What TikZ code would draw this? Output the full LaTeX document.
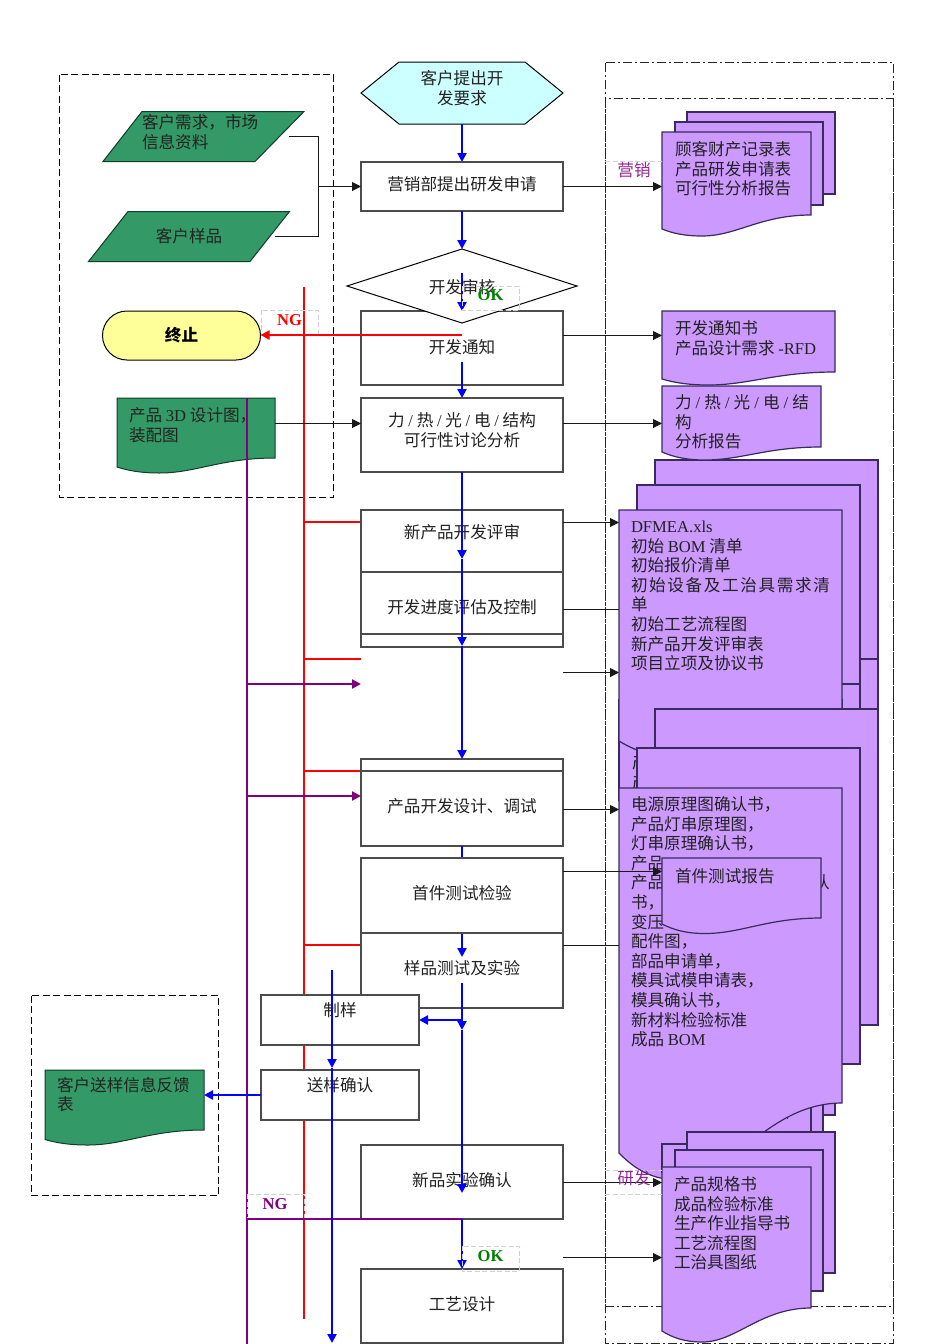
\documentclass[tikz,border=0pt]{standalone}
\usepackage{fontspec}
\setmainfont{Noto Sans CJK SC}
\newfontfamily\latf{Liberation Serif}
\usetikzlibrary{arrows.meta,shapes.geometric}
\definecolor{sheetfill}{HTML}{CC99FF}
\definecolor{sheetline}{HTML}{3A2A60}
\definecolor{docgreen}{HTML}{339966}
\definecolor{docgreenline}{HTML}{0F3D28}
\definecolor{inktext}{HTML}{222222}
\definecolor{purpleline}{HTML}{800080}
\definecolor{lblbox}{HTML}{CFCFDF}
\definecolor{hexfill}{HTML}{CCFFFF}
\definecolor{stopfill}{HTML}{FFFF99}
\newcommand{\lt}[1]{{\latf #1}}
\tikzset{
  x=1pt,y=-1pt,
  every node/.style={inner sep=0pt,outer sep=0pt,text=inktext,font=\fontsize{16.6}{19.6}\selectfont},
  flowbox/.style={draw=black!70,line width=1.2pt,fill=white,anchor=north west},
  sheet/.style={draw=sheetline,line width=1.2pt,fill=sheetfill},
  greensheet/.style={draw=docgreenline,line width=1pt,fill=docgreen},
  ghost/.style={anchor=north west},
  txt/.style={anchor=center,align=center},
  ltxt/.style={anchor=north west,align=left},
  outerframe/.style={draw=black!85,line width=1pt,dash pattern=on 9pt off 3pt on 2pt off 3pt},
  dashframe/.style={draw=black,line width=1pt,dash pattern=on 7pt off 3.5pt},
  lblframe/.style={draw=lblbox,line width=.7pt,dash pattern=on 5pt off 2.5pt},
  blk/.style={draw=black!90,line width=1pt},
  blkarr/.style={blk,-{Triangle[length=9pt,width=9pt]}},
  bluearr/.style={draw=blue,line width=2.2pt,-{Triangle[length=9pt,width=9pt]}},
  redline/.style={draw=red,line width=2.2pt},
  redarr/.style={redline,-{Triangle[length=9pt,width=9pt]}},
  purpline/.style={draw=purpleline,line width=2.2pt},
  purparr/.style={purpline,-{Triangle[length=9pt,width=9pt]}},
  oktext/.style={text=green!50!black,font=\latf\bfseries\fontsize{16.6}{18}\selectfont},
  ngtext/.style={text=red,font=\latf\bfseries\fontsize{16.6}{18}\selectfont},
  ngptext/.style={text=purpleline,font=\latf\bfseries\fontsize{16.6}{18}\selectfont},
  roletext/.style={text=purpleline!85,font=\fontsize{16.6}{18}\selectfont}
}
% name, x0,y0,x1,y1 : flow box
\newcommand{\flowrect}[5]{\node[flowbox,minimum width={#4pt-#2pt},minimum height={#5pt-#3pt}] (#1) at (#2,#3) {};}
% name, style, x0,y0,x1,yRight,yLeft,yLow : sheet with wavy foot
\newcommand{\wavesheet}[8]{%
  \path[#2] (#3,#4) -- (#5,#4) -- (#5,#6)
    .. controls ({#3+.66*(#5-#3)},#6) and ({#3+.5*(#5-#3)},#8) .. ({#3+.27*(#5-#3)},#8)
    .. controls ({#3+.15*(#5-#3)},#8) and ({#3+.07*(#5-#3)},{#8-.4*(#8-#7)}) .. (#3,#7) -- cycle;
  \node[ghost,minimum width={#5pt-#3pt},minimum height={#8pt-#4pt}] (#1) at (#3,#4) {};}
% name, style, x0,y0,x1,y1 : plain sheet
\newcommand{\plainsheet}[6]{\path[#2] (#3,#4) rectangle (#5,#6);
  \node[ghost,minimum width={#5pt-#3pt},minimum height={#6pt-#4pt}] (#1) at (#3,#4) {};}
\begin{document}
\begin{tikzpicture}
\useasboundingbox (0,0) rectangle (950,1344);
\fill[white] (0,0) rectangle (950,1344);

% frames
\path[outerframe] (605.5,62.5) rectangle (893.5,1343);
\path[outerframe] (605.5,98.5) rectangle (893.5,1306.5);
\path[dashframe] (59.5,74.5) rectangle (333.5,497.5);
\path[dashframe] (31.5,995.5) rectangle (218.5,1195.5);

% left inputs
\draw[greensheet] (142,111.5) -- (304,111.5) -- (255,161.5) -- (103,161.5) -- cycle;
\node[ghost,minimum width=201pt,minimum height=50pt] (need) at (103,111.5) {};
\draw[greensheet] (128,211.5) -- (289.5,211.5) -- (250,261.5) -- (88.5,261.5) -- cycle;
\node[ghost,minimum width=201pt,minimum height=50pt] (sample) at (88.5,211.5) {};
\node[ltxt] (needt) at (142,114.5) {客户需求，市场\\信息资料};
\node[txt] (samplet) at (189,236) {客户样品};
\node[draw=black,line width=1pt,fill=stopfill,rounded corners=24.5pt,minimum width=158pt,minimum height=49pt] (stopn) at (181.5,335.5) {};
\node[txt,font=\bfseries\fontsize{16.6}{18}\selectfont,text=black] (stopt) at (181.5,335) {终止};
\wavesheet{cad}{greensheet}{117}{398}{275}{458}{467}{473}
\node[ltxt] (cadt) at (129,408) {产品 \lt{3D} 设计图，\\装配图};
\wavesheet{fb}{greensheet}{45}{1070}{204}{1130}{1139.5}{1145}
\node[ltxt] (fbt) at (57,1077) {客户送样信息反馈\\表};

% merge connector of the two inputs
\coordinate (mergeA) at (289,136.5);
\coordinate (mergeB) at (275,236.5);
\draw[blk] (mergeA) -- (318.5,136.5) -- (318.5,236.5) -- (mergeB);

% swim-lane trunks
\coordinate (rtop) at (304,287);
\coordinate (rbot) at (304,1319);
\coordinate (ptop) at (247,398);
\coordinate (pbot) at (247,1344);
\draw[redline] (rtop) -- (rbot);
\draw[purpline] (ptop) -- (pbot);
\draw[redline] (rtop |- 0,522) -- (361,522);
\draw[redline] (rtop |- 0,659) -- (361,659);
\draw[redline] (rtop |- 0,771) -- (361,771);
\draw[redline] (rtop |- 0,945) -- (361,945);
\draw[purparr] (ptop |- 0,684) -- (361,684);
\draw[purparr] (ptop |- 0,796) -- (361,796);

% document stacks: hidden sheets beneath, then the visible ones
\plainsheet{hbk}{sheet}{655}{640}{878}{800}
\plainsheet{hmd}{sheet}{637}{670}{860}{800}
\plainsheet{hfr}{sheet}{619}{700}{842}{800}
\node[ltxt] (hfrag) at (632,735) {产\\产\\产};
\plainsheet{aback}{sheet}{655}{460}{878}{659}
\plainsheet{amid}{sheet}{637}{485}{860}{684}
\wavesheet{afront}{sheet}{619}{510}{842}{709}{741}{757}
\node[ltxt] (afrontt) at (631,521) {\lt{DFMEA.xls}\\初始 \lt{BOM} 清单\\初始报价清单\\\hbox to 199pt{初\hfil 始\hfil 设\hfil 备\hfil 及\hfil 工\hfil 治\hfil 具\hfil 需\hfil 求\hfil 清}\\单\\初始工艺流程图\\新产品开发评审表\\项目立项及协议书};

\plainsheet{yback}{sheet}{700}{1000}{835}{1115}
\plainsheet{ymid}{sheet}{700}{1000}{823}{1140}
\plainsheet{yfront}{sheet}{700}{1000}{811}{1140}
\draw[sheetline,line width=.7pt] (783,1116.5) -- (787,1116.5) -- (787,1119);

\plainsheet{bback}{sheet}{655}{709}{878}{1025}
\plainsheet{bmid}{sheet}{637}{748}{860}{1064}
\wavesheet{bfront}{sheet}{619}{788}{842}{1103}{1153}{1180}
\node[ltxt] (bfrontt) at (631,796.5) {电源原理图确认书，\\产品灯串原理图，\\灯串原理确认书，\\产品\\\hbox to 30pt{产\hfil 品}\\书，\\变压\\配件图，\\部品申请单，\\模具试模申请表，\\模具确认书，\\新材料检验标准\\成品 \lt{BOM}};
\node[ltxt] (bfrontx) at (813,875) {认};

% small upper documents
\plainsheet{d1back}{sheet}{687}{112}{835}{194}
\plainsheet{d1mid}{sheet}{675}{122}{823}{205}
\wavesheet{d1}{sheet}{662}{132}{811}{215}{229}{236}
\node[ltxt] (d1t) at (675,141.5) {顾客财产记录表\\产品研发申请表\\可行性分析报告};
\wavesheet{d2}{sheet}{662}{311}{835}{372}{379}{385}
\node[ltxt] (d2t) at (675,320.5) {开发通知书\\产品设计需求 \lt{-RFD}};
\wavesheet{d3}{sheet}{662}{386}{821}{447}{452}{460}
\node[ltxt] (d3t) at (675,394.5) {\hbox to 134pt{力\hfil\lt{/}\hfil 热\hfil\lt{/}\hfil 光\hfil\lt{/}\hfil 电\hfil\lt{/}\hfil 结}\\构\\分析报告};

% lower documents
\plainsheet{cstub}{sheet}{662}{1144}{700}{1172}
\plainsheet{cback}{sheet}{687}{1132}{835}{1273}
\plainsheet{cmid}{sheet}{675}{1150}{823}{1291}
\wavesheet{cfront}{sheet}{662}{1167}{811}{1308}{1331}{1342}
\node[ltxt] (cfrontt) at (674,1176.5) {产品规格书\\成品检验标准\\生产作业指导书\\工艺流程图\\工治具图纸};

% flow: lower boxes first, so that the blue connector runs over them
\flowrect{test}{361}{933}{563}{1008}
\node[txt] (testt) at (462,968) {样品测试及实验};

% flow
\draw[draw=black,line width=1pt,fill=hexfill] (361,93) -- (399,62) -- (525,62) -- (563,93) -- (525,124) -- (399,124) -- cycle;
\node[ghost,minimum width=202pt,minimum height=62pt] (hex) at (361,62) {};
\node[txt] (hext) at (462,88) {客户提出开\\发要求};
\flowrect{yx}{361}{162}{563}{211}
\node[txt] (yxt) at (462,184) {营销部提出研发申请};
\flowrect{tz}{361}{311}{563}{385}
\node[txt] (tzt) at (462,347) {开发通知};
\node[draw=black,line width=1pt,fill=white,shape=diamond,aspect=3.1,minimum width=230pt,minimum height=74pt] (dm) at (462,286) {};
\node[txt] (dmt) at (462,287) {开发审核};
\flowrect{lr}{361}{398}{563}{472}
\node[txt] (lrt) at (462,430.5) {力 \lt{/} 热 \lt{/} 光 \lt{/} 电 \lt{/} 结构\\可行性讨论分析};
\flowrect{xp}{361}{510}{563}{647}
\node[txt] (xpt) at (462,532) {新产品开发评审};
\flowrect{jd}{361}{572}{563}{634}
\node[txt] (jdt) at (462,607) {开发进度评估及控制};
\flowrect{sjo}{361}{759}{563}{846}
\flowrect{sj}{361}{771}{563}{846}
\node[txt] (sjt) at (462,806) {产品开发设计、调试};

% label frames lying under connectors
\path[lblframe] (261,310) rectangle (318,335);
\path[lblframe] (247,1194) rectangle (304,1219);

% blue connectors
\draw[bluearr] (hex.south) -- (yx.north);
\draw[bluearr] (yx.south) -- (dm.north);
\draw[bluearr] (dm.center |- 0,273) -- (tz.north);
\draw[bluearr] (tz.center |- 0,362) -- (lr.north);
\coordinate (bj1) at (462,559);
\coordinate (bj2) at (462,646);
\draw[bluearr] (lr.south) -- (bj1);
\draw[bluearr] (bj1) -- (bj2);
\draw[bluearr] (bj2) -- (sjo.north);
\coordinate (bj3) at (462,957);
\draw[bluearr] (sj.south) -- (bj3);

\flowrect{fir}{361}{858}{563}{933}
\node[txt] (firt) at (462,893) {首件测试检验};

\flowrect{zy}{261}{995}{419}{1045}
\node[txt] (zyt) at (340,1010) {制样};
\flowrect{sy}{261}{1070}{419}{1120}
\node[txt] (syt) at (340,1085) {送样确认};
\flowrect{pv}{361}{1145}{563}{1219}
\node[txt] (pvt) at (462,1180) {新品实验确认};
\flowrect{gy}{361}{1269}{563}{1343}
\node[txt] (gyt) at (462,1304) {工艺设计};

\coordinate (bj4) at (462,983);
\coordinate (bj5) at (462,1030);
\coordinate (bj6) at (462,1193);
\coordinate (bj7) at (462,1020);
\draw[bluearr] (bj4) -- (bj5);
\draw[bluearr] (bj5) -- (bj6);
\draw[bluearr] (bj7) -- (zy.east |- bj7);
\draw[purpline] (ptop |- 0,1219) -- (pv.south);
\draw[bluearr] (pv.south) -- (gy.north);
\coordinate (bk1) at (332,970);
\coordinate (bk2) at (332,1068);
\coordinate (bk3) at (332,1343);
\draw[bluearr] (bk1) -- (bk2);
\draw[bluearr] (bk2) -- (bk3);
\draw[bluearr] (sy.west) -- (fb.east |- sy.west);
\draw[redarr] (dm.center |- 0,335) -- (stopn.east |- 0,335);

% output connectors
\draw[blkarr] (318.5,186.5) -- (yx.west |- 0,186.5);
\draw[blkarr] (yx.east |- 0,186.5) -- (d1.west |- 0,186.5);
\draw[blkarr] (tz.east |- 0,335.5) -- (d2.west |- 0,335.5);
\draw[blkarr] (lr.east |- 0,423.5) -- (d3.west |- 0,423.5);
\draw[blkarr] (cad.east |- 0,423.5) -- (lr.west |- 0,423.5);
\draw[blkarr] (xp.east |- 0,522.5) -- (afront.west |- 0,522.5);
\draw[blk] (jd.east |- 0,609.5) -- (afront.west |- 0,609.5);
\coordinate (gapr) at (563,672.5);
\draw[blkarr] (gapr) -- (afront.west |- gapr);
\draw[blkarr] (sj.east |- 0,809.5) -- (bfront.west |- 0,809.5);
\draw[blk] (test.east |- 0,945.5) -- (bfront.west |- 0,945.5);
\draw[blkarr] (pv.east |- 0,1182.5) -- (cfront.west |- 0,1182.5);
\draw[blkarr] (gy.east |- 0,1257.5) -- (cfront.west |- 0,1257.5);

% first article report on top
\wavesheet{d4}{sheet}{662}{858}{821}{918}{924}{933.5}
\node[ltxt] (d4t) at (675,868) {首件测试报告};
\draw[blkarr] (fir.east |- 0,871.5) -- (d4.west |- 0,871.5);

% labels
\path[lblframe] (462,286) rectangle (519,310);
\node[oktext] (ok1) at (490.5,295) {OK};
\node[ngtext] (ng1) at (289.5,320) {NG};
\path[lblframe] (462,1246) rectangle (519,1271);
\node[oktext] (ok2) at (490.5,1256) {OK};
\node[ngptext] (ng2) at (275,1204) {NG};
\path[lblframe] (605,161.5) -- (662,161.5);
\node[roletext] (ro1) at (634,170) {营销};
\path[lblframe] (605,1170) -- (662,1170);
\path[lblframe] (605,1194) -- (662,1194);
\node[roletext] (ro2) at (634,1178) {研发};
\end{tikzpicture}
\end{document}
